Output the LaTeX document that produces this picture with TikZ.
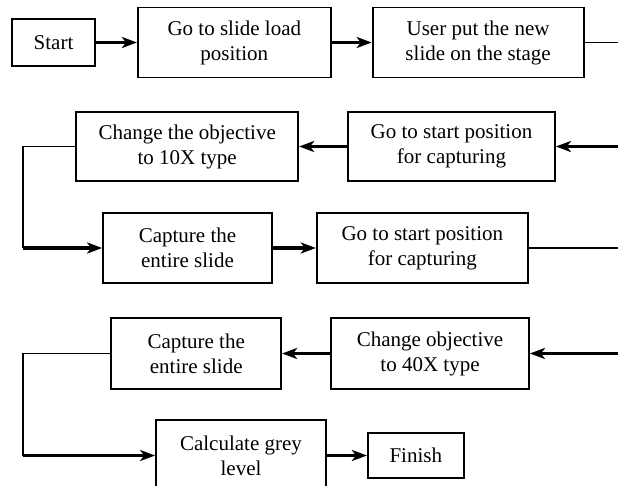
\documentclass[tikz,border=0pt]{standalone}
\usepackage{fontspec}
\setmainfont{Liberation Serif}
\usepackage{tikz}
\usetikzlibrary{arrows.meta, positioning}

\begin{document}
\begin{tikzpicture}[
		x=1pt, y=-1pt,
		font=\fontsize{21}{25}\selectfont,
		box/.style={rectangle, draw, line width=1.8pt, inner sep=0pt, minimum height=70pt, align=center},
		link/.style={line width=1.5pt},
		arrow/.style={-{Stealth[length=15pt, width=11pt, inset=4pt]}, line width=3.6pt}
		]
		\useasboundingbox (0,0) rectangle (618,486);
		% Nodes
		\node[box, minimum height=47pt, minimum width=83pt] (start) at (53.5,42.5) {Start};
		\node[box, minimum width=193pt] (load) [right=41pt of start] {Go to slide load\\position};
		\node[box, minimum width=211pt] (stage) [right=40pt of load] {User put the new\\slide on the stage};
		
		\node[box, minimum width=207pt, minimum height=69pt] (pos1) at (451.5,146.5) {Go to start position\\for capturing};
		\node[box, minimum width=222pt, minimum height=69pt] (obj10) [left=48pt of pos1] {Change the objective\\to 10X type};
		
		\node[box, minimum width=169pt] (cap1) at (187.5,248) {Capture the\\entire slide};
		\node[box, minimum width=211pt] (pos2) [right=43pt of cap1] {Go to start position\\for capturing};
		
		\node[box, minimum width=198pt, minimum height=71pt] (obj40) at (430,353.5) {Change objective\\to 40X type};
		\node[box, minimum width=170pt, minimum height=71pt] (cap2) [left=48pt of obj40] {Capture the\\entire slide};
		
		\node[box, minimum width=170pt, minimum height=71pt] (grey) at (241,455.5) {Calculate grey\\level};
		\node[box, minimum width=96pt, minimum height=45pt] (finish) [right=40pt of grey] {Finish};
		
		% Edge points
		\coordinate (r1) at (618,42.5);
		\coordinate (r2) at (618,146.5);
		\coordinate (r3) at (618,248);
		\coordinate (r4) at (618,353.5);
		\coordinate (l2) at (23,146.5);
		\coordinate (l3) at (23,248);
		\coordinate (l4) at (23,353.5);
		\coordinate (l5) at (23,455.5);
		
		% Arrows
		\draw[arrow] (start) -- (load);
		\draw[arrow] (load) -- (stage);
		\draw[link] (stage.east) -- (r1);
		\draw[arrow] (r2) -- (pos1.east);
		\draw[arrow] (pos1) -- (obj10);
		\draw[link] (obj10.west) -- (l2) -- (l3);
		\draw[arrow] (l3) -- (cap1.west);
		\draw[arrow] (cap1) -- (pos2);
		\draw[link] (pos2.east) -- (r3);
		\draw[arrow] (r4) -- (obj40.east);
		\draw[arrow] (obj40) -- (cap2);
		\draw[link] (cap2.west) -- (l4) -- (l5);
		\draw[arrow] (l5) -- (grey.west);
		\draw[arrow] (grey) -- (finish);
	\end{tikzpicture}
\end{document}
